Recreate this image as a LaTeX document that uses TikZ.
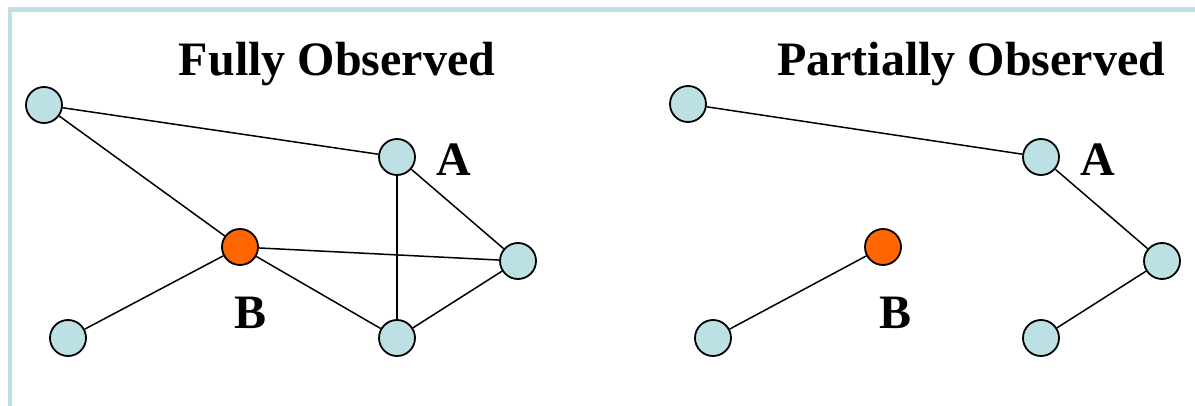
\documentclass[tikz,border=0pt]{standalone}
\usepackage{fontspec}
\setmainfont{Liberation Serif}
\definecolor{framecol}{HTML}{BDE0E4}
\definecolor{nodeblue}{HTML}{BCE0E3}
\definecolor{nodeorange}{HTML}{FF6600}
\begin{document}
\begin{tikzpicture}[x=1pt,y=-1pt,
  vert/.style={circle,draw=black,line width=1.8pt,fill=nodeblue,minimum size=36pt,inner sep=0pt},
  hub/.style={vert,fill=nodeorange},
  edge/.style={line width=1.5pt},
  lbl/.style={font=\fontsize{48}{56}\selectfont\bfseries,inner sep=0pt},
  title/.style={font=\fontsize{48}{56}\selectfont\bfseries,inner sep=0pt}]
\useasboundingbox (0,0) rectangle (1195,406);
% slide frame: only the top and left edges show
\draw[framecol,line width=4.5pt] (10,406) -- (10,9.5) -- (1195,9.5);

% left graph: every edge known
\node[title] (t1) at (337,64) {Fully Observed};
\node[vert] (l1) at (44,105) {};
\node[vert] (la) at (397,157) {};
\node[hub]  (lb) at (240,247) {};
\node[vert] (lr) at (518,261) {};
\node[vert] (lbl1) at (68,338) {};
\node[vert] (lbt) at (397,338) {};
\node[lbl] (la-t) at (454,160) {A};
\node[lbl] (lb-t) at (251,313) {B};
\draw[edge] (l1) -- (la);
\draw[edge] (l1) -- (lb);
\draw[edge] (la) -- (lbt);
\draw[edge] (la) -- (lr);
\draw[edge] (lb) -- (lr);
\draw[edge] (lb) -- (lbt);
\draw[edge] (lb) -- (lbl1);
\draw[edge] (lbt) -- (lr);

% right graph: only part of the edges known
\node[title] (t2) at (971,64) {Partially Observed};
\node[vert] (r1) at (688,104) {};
\node[vert] (ra) at (1041,157) {};
\node[hub]  (rb) at (883,247) {};
\node[vert] (rr) at (1162,261) {};
\node[vert] (rbl) at (713,338) {};
\node[vert] (rbt) at (1041,338) {};
\node[lbl] (ra-t) at (1098,160) {A};
\node[lbl] (rb-t) at (895,313) {B};
\draw[edge] (r1) -- (ra);
\draw[edge] (ra) -- (rr);
\draw[edge] (rb) -- (rbl);
\draw[edge] (rr) -- (rbt);
\end{tikzpicture}
\end{document}
